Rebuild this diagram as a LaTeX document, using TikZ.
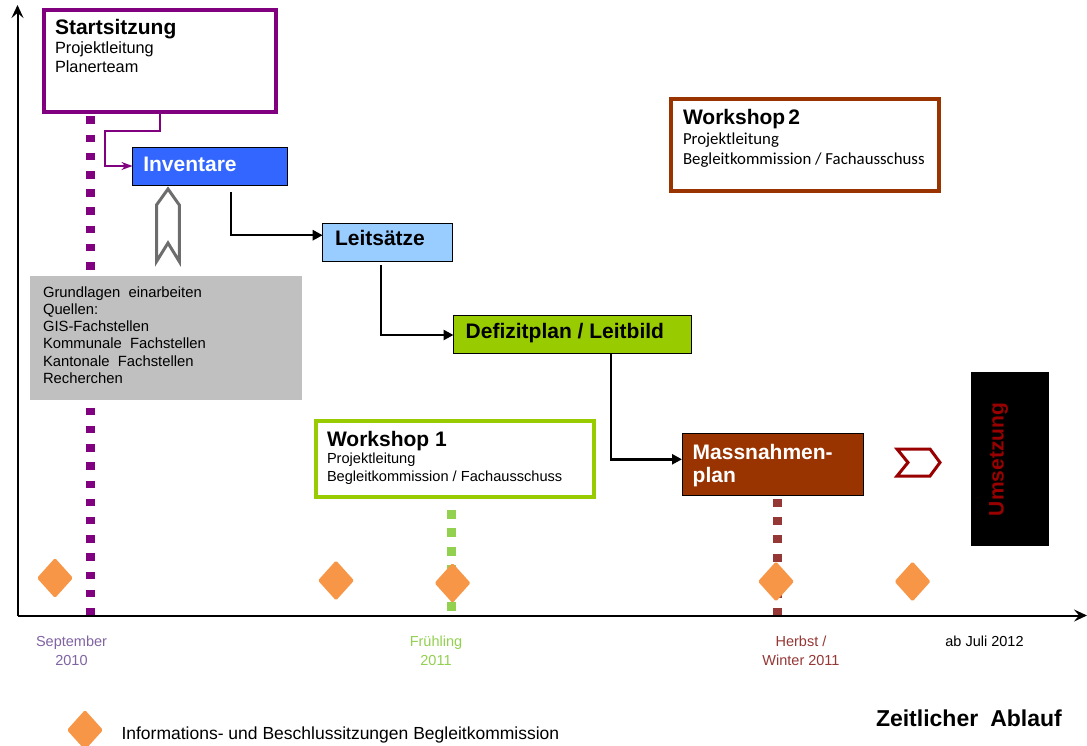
\documentclass[tikz,border=0pt]{standalone}
\usepackage{fontspec}
\setmainfont{Liberation Sans}
\newfontfamily\calfont{Carlito}
\usetikzlibrary{arrows.meta,shapes.geometric}
\definecolor{spurple}{HTML}{800080}
\definecolor{invblue}{HTML}{3366FF}
\definecolor{leitblue}{HTML}{99CCFF}
\definecolor{defgreen}{HTML}{99CC00}
\definecolor{massbrown}{HTML}{993300}
\definecolor{greybox}{HTML}{C0C0C0}
\definecolor{dotgreen}{HTML}{92D050}
\definecolor{dotbrown}{HTML}{953735}
\definecolor{diam}{HTML}{F79646}
\definecolor{sepcol}{HTML}{8064A2}
\definecolor{umsred}{HTML}{990000}
\definecolor{arrgrey}{HTML}{6D6D6D}
\begin{document}
\begin{tikzpicture}[x=1pt,y=-1pt,
  every node/.style={inner sep=0pt,outer sep=0pt},
  frame/.style={draw=#1,line width=4pt,fill=white},
  stagebox/.style={draw=black,line width=0.9pt,fill=#1},
  btitle/.style={font=\fontsize{21}{24}\selectfont\bfseries,anchor=base west},
  subtext/.style={font=\fontsize{16.3}{19}\selectfont,anchor=base west},
  wstext/.style={font=\fontsize{14.6}{18}\selectfont,anchor=base west},
  calsub/.style={font=\calfont\fontsize{16.8}{20}\selectfont,anchor=base west},
  gtext/.style={font=\fontsize{14.8}{17}\selectfont,anchor=base west},
  tlabel/.style={font=\fontsize{14.5}{19}\selectfont,anchor=base},
  flow/.style={line width=2.6pt,-{Triangle[length=10pt,width=10pt]}},
  pconn/.style={draw=spurple,line width=2pt,-{Stealth[length=11pt,width=8pt]}},
  axis/.style={line width=2pt,-{Stealth[length=13pt,width=12pt,inset=5pt]}},
  dotline/.style={line width=9pt},
  marker/.style={diamond,fill=diam,minimum width=36pt,minimum height=40pt,rounded corners=1.5pt}
]
\useasboundingbox (0,0) rectangle (1087,746);

% dotted milestone lines
\draw[dotline,draw=spurple,dash pattern=on 7.5pt off 10.7pt] (90,116.5) -- (90,616.5);
\draw[dotline,draw=dotgreen,dash pattern=on 9pt off 9.3pt] (451.5,510) -- (451.5,616);
\draw[dotline,draw=dotbrown,dash pattern=on 8pt off 10.2pt] (777.5,499) -- (777.5,617);

% axes
\coordinate (O) at (17.5,615.5);
\coordinate (ytop) at (17.5,5);
\coordinate (xend) at (1087,615.5);
\draw[axis] (O) -- (ytop);
\draw[axis] (O) -- (xend);

% Startsitzung
\node[frame=spurple,minimum width=232pt,minimum height=102pt] (ss) at (160,61) {};
\node[btitle] (sst) at (55,35) {Startsitzung};
\node[subtext] (ss1) at (55,53.5) {Projektleitung};
\node[subtext] (ss2) at (55,72.5) {Planerteam};

% stage boxes
\node[stagebox=invblue,minimum width=155pt,minimum height=38pt] (inv) at (210,166) {};
\node[btitle,text=white] (invt) at (143.3,172) {Inventare};
\node[stagebox=leitblue,minimum width=130pt,minimum height=38pt] (leit) at (387.7,242.2) {};
\node[btitle] (leitt) at (335,245) {Leitsätze};
\node[stagebox=defgreen,minimum width=238pt,minimum height=38pt] (def) at (572.5,334.5) {};
\node[btitle] (deft) at (465.7,338) {Defizitplan / Leitbild};
\node[stagebox=massbrown,minimum width=181pt,minimum height=62pt] (mass) at (772.5,464) {};
\node[btitle,text=white] (masst1) at (692.7,459) {Massnahmen-};
\node[btitle,text=white] (masst2) at (692.7,482.5) {plan};

% grey sources box
\node[fill=greybox,minimum width=272pt,minimum height=124pt] (grund) at (166,338) {};
\foreach \t [count=\i] in {Grundlagen~~einarbeiten,Quellen:,GIS-Fachstellen,Kommunale~~Fachstellen,Kantonale~~Fachstellen,Recherchen}
  \node[gtext] (g\i) at (43,{297.3+17.2*(\i-1)}) {\t};

% grey hollow arrow
\draw[arrgrey,line width=3pt,line join=miter] (168,189) -- (179.3,205) -- (179.3,261.5) -- (168,243) -- (156.5,261.5) -- (156.5,205) -- cycle;

% connectors
\draw[pconn] (ss.south) -- ++(0,19) -| ([xshift=-28pt]inv.west) -- (inv.west);
\draw[flow] ([xshift=21pt,yshift=-7pt]inv.south) |- ([yshift=7pt]leit.west);
\draw[flow] ([xshift=-6.7pt,yshift=-4pt]leit.south) |- ([yshift=-0.5pt]def.west);
\draw[flow] ([xshift=38.5pt]def.south) |- ([yshift=4.7pt]mass.west);

% Workshop 1
\node[frame=defgreen,minimum width=278pt,minimum height=76pt] (ws1) at (455,459) {};
\node[btitle] (ws1t) at (327,446) {Workshop 1};
\node[wstext] (ws1a) at (327,463.5) {Projektleitung};
\node[wstext] (ws1b) at (327,481.5) {Begleitkommission / Fachausschuss};

% Workshop 2
\node[frame=massbrown,minimum width=268pt,minimum height=92pt] (ws2) at (805,145) {};
\node[btitle] (ws2t) at (683,125) {Workshop\hspace{3pt}2};
\node[calsub] (ws2a) at (683,145) {Projektleitung};
\node[calsub] (ws2b) at (683,165) {Begleitkommission / Fachausschuss};

% chevron and Umsetzung
\draw[umsred,line width=3pt,line join=miter] (897,449) -- (930,449) -- (940,462.5) -- (930,476) -- (897,476) -- (908,462.5) -- cycle;
\node[fill=black,minimum width=78pt,minimum height=174pt] (ums) at (1010,459) {};
\node[font=\fontsize{21}{24}\selectfont\bfseries,text=umsred,rotate=90,anchor=base] (umst) at (1003.5,459.5) {Umsetzung};

% diamonds
\node[marker] (d1) at (55,578) {};
\node[marker] (d2) at (336,580.5) {};
\node[marker] (d3) at (452.5,583) {};
\node[marker] (d4) at (776,581.5) {};
\node[marker] (d5) at (912.5,581.5) {};

% time labels
\node[tlabel,text=sepcol] (sep1) at (71.5,646) {September};
\node[tlabel,text=sepcol] (sep2) at (71.5,665) {2010};
\node[tlabel,text=dotgreen] (fr1) at (436,646) {Frühling};
\node[tlabel,text=dotgreen] (fr2) at (436,665) {2011};
\node[tlabel,text=dotbrown] (hb1) at (801,646) {Herbst /};
\node[tlabel,text=dotbrown] (hb2) at (801,665) {Winter 2011};
\node[tlabel] (juli) at (984.5,646) {ab Juli 2012};

% title and legend
\node[font=\fontsize{23}{26}\selectfont\bfseries,anchor=base west] (zeit) at (876,726.7) {Zeitlicher\hspace{12pt}Ablauf};
\node[marker] (leg) at (85,730) {};
\node[font=\fontsize{17.5}{20}\selectfont,anchor=base west] (legt) at (121.5,739.5) {Informations- und Beschlussitzungen Begleitkommission};
\end{tikzpicture}
\end{document}
